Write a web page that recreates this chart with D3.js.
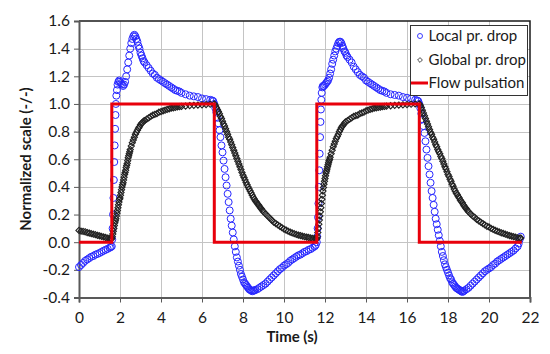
<!DOCTYPE html>
<html>
<head>
<meta charset="utf-8">
<script src="https://cdn.jsdelivr.net/npm/d3@7"></script>
<style>
  body { margin: 0; background: #fff; }
  svg { font-family: Lato, "Open Sans", sans-serif; }
</style>
</head>
<body>
<svg id="chart"></svg>
<script>
// time (s), normalized value
const localDrop = [
  [0.0,-0.18],[0.1,-0.165],[0.2,-0.15],[0.3,-0.135],[0.4,-0.125],[0.5,-0.115],[0.6,-0.105],[0.7,-0.1],
  [0.8,-0.09],[0.9,-0.085],[1.0,-0.078],[1.1,-0.07],[1.2,-0.062],[1.3,-0.055],[1.4,-0.048],[1.5,-0.04],
  [1.55,-0.035],[1.6,-0.03],[1.62,0.02],[1.64,0.1],[1.66,0.2],[1.68,0.32],[1.7,0.45],[1.72,0.58],
  [1.74,0.7],[1.76,0.82],[1.78,0.92],[1.8,1.0],[1.82,1.06],[1.85,1.1],[1.88,1.14],[1.92,1.16],
  [1.96,1.17],[2.0,1.16],[2.05,1.15],[2.1,1.14],[2.15,1.13],[2.2,1.14],[2.25,1.16],[2.3,1.2],
  [2.35,1.25],[2.4,1.3],[2.45,1.35],[2.5,1.4],[2.55,1.44],[2.6,1.47],[2.65,1.49],[2.7,1.5],
  [2.75,1.49],[2.8,1.47],[2.85,1.45],[2.9,1.42],[2.95,1.4],[3.0,1.37],[3.05,1.35],[3.1,1.33],
  [3.15,1.31],[3.2,1.3],[3.3,1.28],[3.4,1.26],[3.5,1.24],[3.6,1.22],[3.7,1.21],[3.8,1.19],
  [3.9,1.18],[4.0,1.17],[4.1,1.16],[4.2,1.15],[4.3,1.14],[4.4,1.13],[4.5,1.12],[4.6,1.11],
  [4.7,1.1],[4.8,1.095],[4.9,1.09],[5.0,1.08],[5.2,1.07],[5.4,1.06],[5.6,1.055],[5.8,1.05],
  [6.0,1.04],[6.2,1.035],[6.4,1.03],[6.5,1.025],[6.55,1.02],[6.6,1.0],[6.65,0.97],[6.7,0.94],
  [6.75,0.9],[6.8,0.86],[6.85,0.81],[6.9,0.76],[6.95,0.7],[7.0,0.65],[7.05,0.59],[7.1,0.53],
  [7.15,0.47],[7.2,0.41],[7.25,0.35],[7.3,0.29],[7.35,0.23],[7.4,0.17],[7.45,0.12],[7.5,0.07],
  [7.55,0.02],[7.6,-0.03],[7.65,-0.07],[7.7,-0.11],[7.75,-0.14],[7.8,-0.17],[7.85,-0.2],[7.9,-0.23],
  [7.95,-0.25],[8.0,-0.27],[8.05,-0.29],[8.1,-0.3],[8.15,-0.31],[8.2,-0.32],[8.25,-0.33],[8.3,-0.34],
  [8.35,-0.345],[8.4,-0.35],[8.45,-0.355],[8.5,-0.35],[8.55,-0.35],[8.6,-0.345],[8.7,-0.34],[8.8,-0.33],
  [8.9,-0.32],[9.0,-0.31],[9.1,-0.3],[9.2,-0.285],[9.3,-0.27],[9.4,-0.255],[9.5,-0.24],[9.6,-0.225],
  [9.7,-0.21],[9.8,-0.195],[9.9,-0.185],[10.0,-0.17],[10.1,-0.16],[10.2,-0.15],[10.3,-0.135],[10.4,-0.125],
  [10.5,-0.115],[10.6,-0.105],[10.7,-0.095],[10.8,-0.09],[10.9,-0.08],[11.0,-0.07],[11.1,-0.065],[11.2,-0.055],
  [11.3,-0.05],[11.4,-0.04],[11.5,-0.03],[11.55,-0.02],[11.6,0.0],[11.62,0.04],[11.64,0.1],[11.66,0.18],
  [11.68,0.28],[11.7,0.4],[11.72,0.52],[11.74,0.64],[11.76,0.76],[11.78,0.87],[11.8,0.96],[11.82,1.03],
  [11.84,1.08],[11.87,1.12],[11.9,1.13],[11.95,1.13],[12.0,1.14],[12.05,1.15],[12.1,1.16],[12.15,1.17],
  [12.2,1.19],[12.25,1.22],[12.3,1.25],[12.35,1.29],[12.4,1.32],[12.45,1.35],[12.5,1.38],[12.55,1.4],
  [12.6,1.42],[12.65,1.44],[12.7,1.45],[12.75,1.45],[12.8,1.44],[12.85,1.42],[12.9,1.4],[12.95,1.38],
  [13.0,1.37],[13.05,1.35],[13.1,1.34],[13.2,1.32],[13.3,1.3],[13.4,1.27],[13.5,1.25],[13.6,1.23],
  [13.7,1.21],[13.8,1.2],[13.9,1.19],[14.0,1.17],[14.1,1.16],[14.2,1.15],[14.3,1.14],[14.4,1.13],
  [14.5,1.12],[14.6,1.11],[14.7,1.1],[14.8,1.095],[14.9,1.09],[15.0,1.08],[15.2,1.07],[15.4,1.065],
  [15.6,1.06],[15.8,1.05],[16.0,1.045],[16.2,1.04],[16.4,1.03],[16.5,1.025],[16.55,1.02],[16.6,1.0],
  [16.65,0.97],[16.7,0.93],[16.75,0.89],[16.8,0.84],[16.85,0.79],[16.9,0.73],[16.95,0.67],[17.0,0.61],
  [17.05,0.55],[17.1,0.49],[17.15,0.43],[17.2,0.37],[17.25,0.32],[17.3,0.27],[17.35,0.22],[17.4,0.17],
  [17.45,0.13],[17.5,0.09],[17.55,0.05],[17.6,0.01],[17.65,-0.03],[17.7,-0.07],[17.75,-0.1],[17.8,-0.13],
  [17.85,-0.16],[17.9,-0.18],[17.95,-0.2],[18.0,-0.22],[18.05,-0.24],[18.1,-0.26],[18.15,-0.27],[18.2,-0.29],
  [18.25,-0.3],[18.3,-0.31],[18.35,-0.32],[18.4,-0.33],[18.45,-0.335],[18.5,-0.34],[18.55,-0.345],[18.6,-0.35],
  [18.65,-0.355],[18.7,-0.36],[18.75,-0.355],[18.8,-0.35],[18.9,-0.34],[19.0,-0.33],[19.1,-0.315],[19.2,-0.3],
  [19.3,-0.285],[19.4,-0.27],[19.5,-0.255],[19.6,-0.24],[19.7,-0.225],[19.8,-0.21],[19.9,-0.2],[20.0,-0.19],
  [20.1,-0.18],[20.2,-0.165],[20.3,-0.155],[20.4,-0.14],[20.5,-0.13],[20.6,-0.12],[20.7,-0.11],[20.8,-0.1],
  [20.9,-0.09],[21.0,-0.08],[21.1,-0.07],[21.2,-0.06],[21.3,-0.045],[21.4,-0.03],[21.45,-0.01],[21.5,0.02],
  [21.55,0.04]
];

const globalDrop = [
  [0.0,0.085],[0.1,0.08],[0.2,0.078],[0.3,0.075],[0.4,0.07],[0.5,0.066],[0.6,0.062],[0.7,0.058],
  [0.8,0.054],[0.9,0.05],[1.0,0.046],[1.1,0.042],[1.2,0.038],[1.3,0.034],[1.4,0.03],[1.5,0.026],
  [1.55,0.024],[1.6,0.025],[1.625,0.04],[1.65,0.06],[1.675,0.08],[1.7,0.1],[1.725,0.12],[1.75,0.14],
  [1.775,0.155],[1.8,0.17],[1.825,0.19],[1.85,0.21],[1.875,0.23],[1.9,0.25],[1.925,0.27],[1.95,0.29],
  [1.975,0.31],[2.0,0.32],[2.025,0.34],[2.05,0.36],[2.075,0.38],[2.1,0.4],[2.125,0.415],[2.15,0.43],
  [2.175,0.45],[2.2,0.47],[2.225,0.49],[2.25,0.505],[2.275,0.52],[2.3,0.54],[2.325,0.555],[2.35,0.57],
  [2.375,0.59],[2.4,0.61],[2.425,0.625],[2.45,0.64],[2.475,0.655],[2.5,0.67],[2.55,0.695],[2.6,0.72],
  [2.65,0.74],[2.7,0.76],[2.75,0.78],[2.8,0.795],[2.85,0.81],[2.9,0.825],[2.95,0.835],[3.0,0.85],
  [3.05,0.86],[3.1,0.865],[3.15,0.875],[3.2,0.88],[3.3,0.89],[3.4,0.9],[3.5,0.91],[3.6,0.92],
  [3.7,0.925],[3.8,0.93],[3.9,0.94],[4.0,0.945],[4.1,0.95],[4.2,0.955],[4.3,0.96],[4.4,0.965],
  [4.5,0.97],[4.6,0.972],[4.7,0.975],[4.8,0.978],[4.9,0.98],[5.0,0.982],[5.2,0.985],[5.4,0.988],
  [5.6,0.99],[5.8,0.992],[6.0,0.994],[6.2,0.996],[6.4,0.998],[6.6,1.0],[6.65,0.99],[6.7,0.975],
  [6.75,0.96],[6.8,0.945],[6.85,0.93],[6.9,0.91],[6.95,0.895],[7.0,0.875],[7.05,0.855],[7.1,0.84],
  [7.15,0.82],[7.2,0.8],[7.25,0.78],[7.3,0.76],[7.35,0.745],[7.4,0.725],[7.45,0.705],[7.5,0.685],
  [7.55,0.665],[7.6,0.645],[7.65,0.625],[7.7,0.605],[7.75,0.585],[7.8,0.565],[7.85,0.545],[7.9,0.525],
  [7.95,0.505],[8.0,0.485],[8.05,0.468],[8.1,0.45],[8.15,0.432],[8.2,0.415],[8.25,0.4],[8.3,0.385],
  [8.35,0.37],[8.4,0.355],[8.45,0.34],[8.5,0.325],[8.55,0.312],[8.6,0.3],[8.65,0.29],[8.7,0.28],
  [8.75,0.27],[8.8,0.26],[8.85,0.25],[8.9,0.24],[8.95,0.23],[9.0,0.22],[9.1,0.205],[9.2,0.19],
  [9.3,0.175],[9.4,0.16],[9.5,0.145],[9.6,0.135],[9.7,0.125],[9.8,0.115],[9.9,0.105],[10.0,0.095],
  [10.1,0.088],[10.2,0.08],[10.3,0.073],[10.4,0.067],[10.5,0.062],[10.6,0.056],[10.7,0.052],[10.8,0.048],
  [10.9,0.044],[11.0,0.04],[11.1,0.037],[11.2,0.034],[11.3,0.031],[11.4,0.028],[11.5,0.025],[11.55,0.024],
  [11.6,0.025],[11.625,0.04],[11.65,0.07],[11.675,0.1],[11.7,0.13],[11.725,0.16],[11.75,0.19],[11.775,0.22],
  [11.8,0.25],[11.825,0.28],[11.85,0.31],[11.875,0.34],[11.9,0.37],[11.925,0.395],[11.95,0.42],[11.975,0.44],
  [12.0,0.46],[12.025,0.48],[12.05,0.5],[12.075,0.515],[12.1,0.53],[12.125,0.545],[12.15,0.56],[12.175,0.575],
  [12.2,0.59],[12.225,0.6],[12.25,0.615],[12.3,0.64],[12.35,0.665],[12.4,0.69],[12.45,0.71],[12.5,0.73],
  [12.55,0.75],[12.6,0.765],[12.65,0.78],[12.7,0.8],[12.75,0.815],[12.8,0.83],[12.85,0.84],[12.9,0.85],
  [12.95,0.86],[13.0,0.87],[13.1,0.88],[13.2,0.89],[13.3,0.9],[13.4,0.91],[13.5,0.915],[13.6,0.92],
  [13.7,0.93],[13.8,0.935],[13.9,0.94],[14.0,0.95],[14.1,0.955],[14.2,0.96],[14.3,0.965],[14.4,0.97],
  [14.5,0.972],[14.6,0.975],[14.7,0.977],[14.8,0.98],[14.9,0.982],[15.0,0.984],[15.2,0.987],[15.4,0.99],
  [15.6,0.992],[15.8,0.994],[16.0,0.996],[16.2,0.998],[16.4,1.0],[16.6,1.0],[16.65,0.99],[16.7,0.975],
  [16.75,0.955],[16.8,0.935],[16.85,0.915],[16.9,0.895],[16.95,0.875],[17.0,0.855],[17.05,0.835],[17.1,0.815],
  [17.15,0.795],[17.2,0.78],[17.25,0.76],[17.3,0.745],[17.35,0.725],[17.4,0.705],[17.45,0.69],[17.5,0.67],
  [17.55,0.655],[17.6,0.64],[17.65,0.62],[17.7,0.605],[17.75,0.585],[17.8,0.565],[17.85,0.545],[17.9,0.53],
  [17.95,0.51],[18.0,0.49],[18.05,0.475],[18.1,0.455],[18.15,0.44],[18.2,0.42],[18.25,0.405],[18.3,0.385],
  [18.35,0.37],[18.4,0.355],[18.45,0.345],[18.5,0.33],[18.55,0.32],[18.6,0.305],[18.65,0.295],[18.7,0.285],
  [18.75,0.27],[18.8,0.26],[18.85,0.25],[18.9,0.24],[18.95,0.23],[19.0,0.22],[19.1,0.205],[19.2,0.19],
  [19.3,0.18],[19.4,0.165],[19.5,0.155],[19.6,0.145],[19.7,0.135],[19.8,0.125],[19.9,0.115],[20.0,0.11],
  [20.1,0.1],[20.2,0.093],[20.3,0.086],[20.4,0.08],[20.5,0.074],[20.6,0.068],[20.7,0.063],[20.8,0.058],
  [20.9,0.053],[21.0,0.048],[21.1,0.044],[21.2,0.04],[21.3,0.036],[21.4,0.032],[21.5,0.03],[21.55,0.03]
];

const pulseTime = [0, 1.6, 1.6, 6.6, 6.6, 11.6, 11.6, 16.6, 16.6, 21.6];
const pulseValue = [0, 0, 1, 1, 0, 0, 1, 1, 0, 0];

const xTicks = [0, 2, 4, 6, 8, 10, 12, 14, 16, 18, 20, 22];
const yTicks = [-0.4, -0.2, 0.0, 0.2, 0.4, 0.6, 0.8, 1.0, 1.2, 1.4, 1.6];
const seriesNames = ["Local pr. drop", "Global pr. drop", "Flow pulsation"];

const width = 550, height = 354;
const plotL = 79, plotR = 530, plotT = 21, plotB = 297.5;

const svg = d3.select("#chart").attr("width", width).attr("height", height);

const x = d3.scaleLinear().domain([0, 22]).range([plotL, plotR]);
const y = d3.scaleLinear().domain([-0.4, 1.6]).range([plotB, plotT]);

// grid
svg.append("g")
  .selectAll("line")
  .data(xTicks.slice(1, -1))
  .join("line")
  .attr("x1", d => Math.round(x(d)) + 0.5).attr("x2", d => Math.round(x(d)) + 0.5)
  .attr("y1", plotT).attr("y2", plotB)
  .attr("stroke", "#c4c4c4").attr("stroke-width", 1);

svg.append("g")
  .selectAll("line")
  .data(yTicks.slice(1, -1))
  .join("line")
  .attr("x1", plotL).attr("x2", plotR)
  .attr("y1", d => Math.round(y(d)) + 0.5).attr("y2", d => Math.round(y(d)) + 0.5)
  .attr("stroke", "#c4c4c4").attr("stroke-width", 1);

// frame top/right
svg.append("path")
  .attr("d", `M${plotL},${plotT}H${plotR}V${plotB}`)
  .attr("fill", "none").attr("stroke", "#1a1a1a").attr("stroke-width", 1.5);

// axes
const fmt = d => d.toFixed(1);
const yAxis = svg.append("g")
  .attr("transform", `translate(${plotL},0)`)
  .call(d3.axisLeft(y).tickValues(yTicks).tickFormat(fmt).tickSize(5).tickPadding(4));
const xAxis = svg.append("g")
  .attr("transform", `translate(0,${plotB})`)
  .call(d3.axisBottom(x).tickValues(xTicks).tickSize(5).tickPadding(9));

[xAxis, yAxis].forEach(a => {
  a.select(".domain").attr("stroke", "#595959").attr("stroke-width", 2);
  a.selectAll(".tick line").attr("stroke", "#595959").attr("stroke-width", 1);
  a.selectAll(".tick text").attr("fill", "#1a1a1a")
    .style("font-size", "15.5px").style("font-family", "Lato, sans-serif");
});

// markers
const diamond = r => `M0,${-r}L${r},0L0,${r}L${-r},0Z`;

svg.append("g")
  .selectAll("circle")
  .data(localDrop)
  .join("circle")
  .attr("cx", d => x(d[0]))
  .attr("cy", d => y(d[1]))
  .attr("r", 3.5)
  .attr("fill", "none")
  .attr("stroke", "#2626ff")
  .attr("stroke-width", 1);

svg.append("g")
  .selectAll("path")
  .data(globalDrop)
  .join("path")
  .attr("transform", d => `translate(${x(d[0])},${y(d[1])})`)
  .attr("d", diamond(3.1))
  .attr("fill", "none")
  .attr("stroke", "#222")
  .attr("stroke-width", 1.1);

// flow pulsation
const pulse = pulseTime.map((t, i) => [t, pulseValue[i]]);
svg.append("path")
  .datum(pulse)
  .attr("d", d3.line().x(d => x(d[0])).y(d => y(d[1])))
  .attr("fill", "none")
  .attr("stroke", "#e8000b")
  .attr("stroke-width", 3);

// axis titles
svg.append("text")
  .attr("x", 292).attr("y", 342)
  .attr("text-anchor", "middle")
  .style("font-size", "15px").style("font-weight", "bold")
  .attr("fill", "#1a1a1a")
  .text("Time (s)");

svg.append("text")
  .attr("transform", "translate(31,159) rotate(-90)")
  .attr("text-anchor", "middle")
  .style("font-size", "15px").style("font-weight", "bold")
  .attr("fill", "#1a1a1a")
  .text("Normalized scale (-/-)");

// legend
const lg = svg.append("g").attr("transform", "translate(410,25)");
lg.append("rect")
  .attr("x", 0.5).attr("y", 0.5).attr("width", 117).attr("height", 70)
  .attr("fill", "#fff").attr("stroke", "#333").attr("stroke-width", 1);

const rows = [11, 35, 58];
lg.append("circle").attr("cx", 10).attr("cy", rows[0]).attr("r", 2.5)
  .attr("fill", "none").attr("stroke", "#2626ff").attr("stroke-width", 0.9);
lg.append("path").attr("transform", `translate(10,${rows[1]})`).attr("d", diamond(2.4))
  .attr("fill", "none").attr("stroke", "#333").attr("stroke-width", 0.9);
lg.append("line").attr("x1", 1).attr("x2", 18).attr("y1", rows[2]).attr("y2", rows[2])
  .attr("stroke", "#e8000b").attr("stroke-width", 3);

lg.selectAll("text.lab")
  .data(seriesNames)
  .join("text")
  .attr("class", "lab")
  .attr("x", 18.5)
  .attr("y", (d, i) => rows[i] + 5)
  .style("font-size", "15px")
  .attr("fill", "#1a1a1a")
  .text(d => d);
</script>
</body>
</html>
